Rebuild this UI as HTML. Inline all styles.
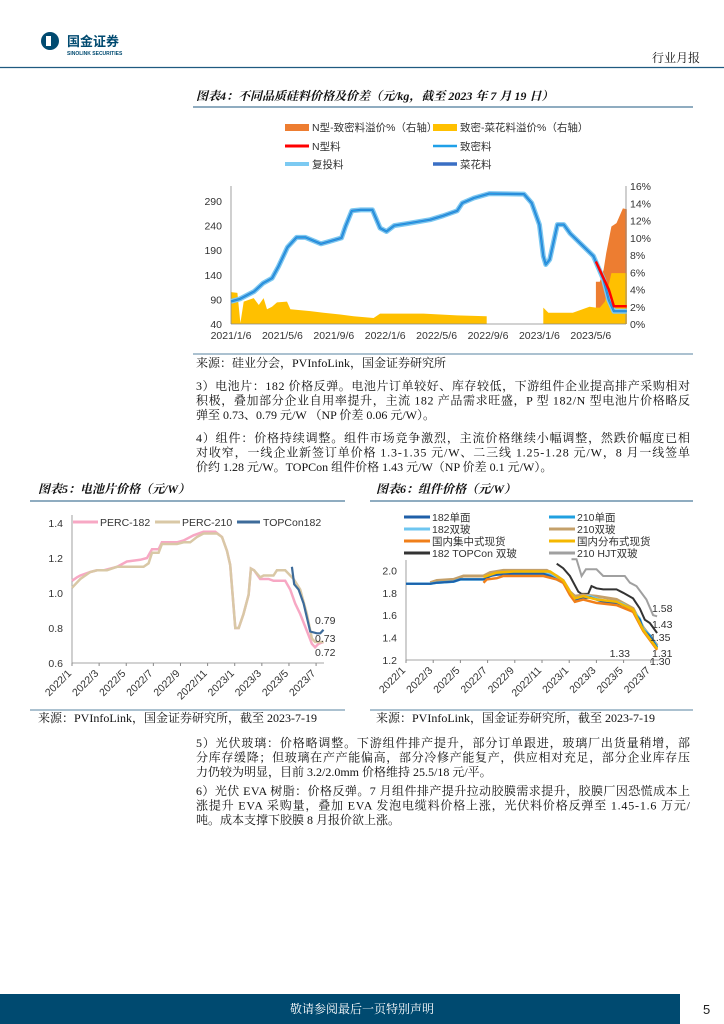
<!DOCTYPE html>
<html><head><meta charset="utf-8"><style>
body{margin:0;background:#fff;}
svg{display:block;font-family:"Liberation Sans","Noto Sans CJK SC",sans-serif;}
.t{font-family:"Liberation Serif","Noto Serif CJK SC",serif;font-size:12px;fill:#111;}
.ax{font-size:10.5px;fill:#333;}
</style></head><body>
<svg id="page" width="724" height="1024" viewBox="0 0 724 1024">
<g>
 <circle cx="50" cy="41" r="9" fill="#004a70"/>
 <rect x="46" y="36" width="5" height="10" fill="#fff"/>
 <text x="67" y="46" font-size="13" font-weight="bold" fill="#004a70">国金证券</text>
 <text x="67" y="55" font-size="5" font-weight="bold" fill="#004a70">SINOLINK SECURITIES</text>
 <text x="652" y="62" class="t" font-size="11">行业月报</text>
 <line x1="0" y1="67.5" x2="724" y2="67.5" stroke="#1f5a80" stroke-width="1.2"/>
</g>
<g>
 <text x="196" y="100" class="t" font-style="italic" font-weight="bold" font-size="12">图表4：不同品质硅料价格及价差（元/kg，截至 2023 年 7 月 19 日）</text>
 <line x1="193" y1="107" x2="693" y2="107" stroke="#1f5a80" stroke-width="1"/>
</g>
<g id="c4"></g>
<line x1="193" y1="354" x2="693" y2="354" stroke="#1f5a80" stroke-width="0.8"/>
<text x="196" y="367" class="t" font-size="9">来源：硅业分会，PVInfoLink，国金证券研究所</text>
<g>
 <text x="196" y="390" class="t" textLength="494" lengthAdjust="spacing">3）电池片：182 价格反弹。电池片订单较好、库存较低，下游组件企业提高排产采购相对</text>
 <text x="196" y="404.5" class="t" textLength="494" lengthAdjust="spacing">积极，叠加部分企业自用率提升，主流 182 产品需求旺盛，P 型 182/N 型电池片价格略反</text>
 <text x="196" y="419" class="t">弹至 0.73、0.79 元/W （NP 价差 0.06 元/W）。</text>
</g>
<g>
 <text x="196" y="442" class="t" textLength="494" lengthAdjust="spacing">4）组件：价格持续调整。组件市场竞争激烈，主流价格继续小幅调整，然跌价幅度已相</text>
 <text x="196" y="456.5" class="t" textLength="494" lengthAdjust="spacing">对收窄，一线企业新签订单价格 1.3-1.35 元/W、二三线 1.25-1.28 元/W，8 月一线签单</text>
 <text x="196" y="471" class="t">价约 1.28 元/W。TOPCon 组件价格 1.43 元/W（NP 价差 0.1 元/W）。</text>
</g>
<g>
 <text x="38" y="493" class="t" font-style="italic" font-weight="bold" font-size="12">图表5：电池片价格（元/W）</text>
 <line x1="30" y1="501" x2="345" y2="501" stroke="#1f5a80" stroke-width="1"/>
</g>
<g>
 <text x="376" y="493" class="t" font-style="italic" font-weight="bold" font-size="12">图表6：组件价格（元/W）</text>
 <line x1="370" y1="501" x2="693" y2="501" stroke="#1f5a80" stroke-width="1"/>
</g>
<g id="c5"></g>
<g id="c6"></g>
<line x1="30" y1="710" x2="345" y2="710" stroke="#1f5a80" stroke-width="0.8"/>
<line x1="370" y1="710" x2="693" y2="710" stroke="#1f5a80" stroke-width="0.8"/>
<text x="38" y="722" class="t" font-size="9">来源：PVInfoLink，国金证券研究所，截至 2023-7-19</text>
<text x="376" y="722" class="t" font-size="9">来源：PVInfoLink，国金证券研究所，截至 2023-7-19</text>
<g>
 <text x="196" y="747" class="t" textLength="494" lengthAdjust="spacing">5）光伏玻璃：价格略调整。下游组件排产提升，部分订单跟进，玻璃厂出货量稍增，部</text>
 <text x="196" y="761.5" class="t" textLength="494" lengthAdjust="spacing">分库存缓降；但玻璃在产产能偏高，部分冷修产能复产，供应相对充足，部分企业库存压</text>
 <text x="196" y="776" class="t">力仍较为明显，目前 3.2/2.0mm 价格维持 25.5/18 元/平。</text>
</g>
<g>
 <text x="196" y="795" class="t" textLength="494" lengthAdjust="spacing">6）光伏 EVA 树脂：价格反弹。7 月组件排产提升拉动胶膜需求提升，胶膜厂因恐慌成本上</text>
 <text x="196" y="809.5" class="t" textLength="494" lengthAdjust="spacing">涨提升 EVA 采购量，叠加 EVA 发泡电缆料价格上涨，光伏料价格反弹至 1.45-1.6 万元/</text>
 <text x="196" y="824" class="t">吨。成本支撑下胶膜 8 月报价欲上涨。</text>
</g>
<g>
 <rect x="0" y="994" width="680" height="30" fill="#004a70"/>
 <text x="290" y="1013" class="t" font-size="9" style="fill:#fff">敬请参阅最后一页特别声明</text>
 <text x="703" y="1014" font-size="13" fill="#222">5</text>
</g>
</svg>
<script>
const c4Ticks = ["2021/1/6","2021/5/6","2021/9/6","2022/1/6","2022/5/6","2022/9/6","2023/1/6","2023/5/6"];
const c4TickMonths = [0,4,8,12,16,20,24,28];
const c4LeftTicks = [40,90,140,190,240,290];
const c4RightTicks = [0,2,4,6,8,10,12,14,16];
const priceMonths = [0,0.7,1.8,2.5,3.2,3.7,4.4,5.1,5.8,7.0,7.7,8.6,8.9,9.4,10.1,11.0,11.6,12.1,12.7,13.7,15.5,16.5,17.6,18.0,18.9,20.1,22.8,23.4,24.0,24.3,24.5,24.8,25.4,25.9,26.4,27.3,28.2,29.0,29.4,29.8,30.8];
const densePrice = [86,91,106,123,133,157,196,216,216,203,208,215,238,270,272,272,235,228,240,244,252,260,270,286,296,305,304,286,242,178,161,171,242,242,224,201,178,130,89,66,66];
const nMonths = [28.4,29.4,29.8,30.8];
const nPrice = [167,110,76,76];
const yPremMonths = [0,0.5,0.73,0.99,1.77,2.16,2.54,2.8,3.19,3.58,4.36,4.62,6.17,7.2,8.5,9.54,11.1,11.6,14.98,17.58,19.9];
const yPremVals = [3.7,3.6,0.1,2.6,3.0,2.2,3.0,1.7,2.0,2.5,2.6,1.7,1.5,1.3,1.1,0.9,0.7,1.2,1.2,1.0,0.9];
const yPrem2Months = [24.3,24.7,26.6,27.9,28.4,28.7,29.1,29.6,30.8];
const yPrem2Vals = [1.9,1.3,1.3,2.0,1.9,1.9,2.6,5.9,5.9];
const nPremMonths = [28.4,28.7,29.0,29.2,29.6,30.0,30.5,30.8];
const nPremVals = [4.9,4.9,6.3,8.2,11.3,11.7,13.4,13.3];

const c5Ticks = ["2022/1","2022/3","2022/5","2022/7","2022/9","2022/11","2023/1","2023/3","2023/5","2023/7"];
const c5YTicks = [0.6,0.8,1.0,1.2,1.4];
const perc182M = [0,0.37,0.61,1.35,1.84,2.33,3.32,4.05,5.04,5.53,5.9,6.39,6.63,7.74,8.23,8.97,9.7,10.57,11.06,11.43,11.67,12.04,12.29,12.65,13.02,13.19,13.43,13.88,14.5,14.86,15.72,16.09,16.46,16.83,17.44,17.69,17.93,18.18,18.55];
const perc182V = [1.07,1.09,1.10,1.12,1.13,1.13,1.15,1.18,1.19,1.20,1.25,1.25,1.29,1.29,1.30,1.33,1.35,1.35,1.32,1.24,1.16,0.80,0.80,0.88,0.99,1.14,1.13,1.08,1.08,1.07,1.07,1.02,0.94,0.88,0.76,0.71,0.69,0.71,0.72];
const perc210M = [0,0.61,1.35,1.84,2.58,3.32,4.05,5.28,5.65,5.9,6.39,6.63,7.74,8.23,8.72,9.21,9.7,10.69,11.06,11.43,11.67,12.04,12.29,12.65,13.02,13.19,13.43,13.88,14.13,14.86,15.11,15.72,16.34,16.83,17.32,17.69,17.93,18.55];
const perc210V = [1.03,1.08,1.12,1.13,1.13,1.15,1.15,1.15,1.17,1.23,1.23,1.28,1.28,1.29,1.29,1.32,1.34,1.34,1.32,1.24,1.16,0.80,0.80,0.88,0.99,1.14,1.13,1.09,1.10,1.10,1.13,1.13,1.08,1.02,0.88,0.74,0.72,0.72];
const topM = [16.22,16.39,16.71,17.08,17.57,18.06,18.31,18.55];
const topV = [1.15,1.05,1.02,0.94,0.78,0.77,0.77,0.79];

const c6Ticks = ["2022/1","2022/3","2022/5","2022/7","2022/9","2022/11","2023/1","2023/3","2023/5","2023/7"];
const c6YTicks = [1.2,1.4,1.6,1.8,2.0];
const mAM = [0,1.78,2.27,3.50,3.99,5.7,6.19,6.68,7.90,10.1,10.6,11.08,11.56,12.05,12.42,13.03,13.52,14.01,14.74,15.48,15.97,16.7,17.19,17.44,17.93,18.46];
const s182mono = [1.88,1.88,1.89,1.90,1.92,1.92,1.95,1.96,1.97,1.97,1.95,1.92,1.89,1.80,1.74,1.75,1.76,1.74,1.71,1.71,1.69,1.63,1.56,1.47,1.41,1.31];
const s182bi =   [1.88,1.88,1.89,1.90,1.92,1.92,1.95,1.97,1.98,1.98,1.96,1.93,1.90,1.81,1.75,1.76,1.77,1.75,1.72,1.72,1.70,1.64,1.57,1.48,1.42,1.32];
const s210mono = [1.88,1.88,1.89,1.90,1.92,1.92,1.95,1.97,1.97,1.97,1.95,1.92,1.89,1.80,1.74,1.75,1.76,1.74,1.71,1.71,1.69,1.63,1.56,1.47,1.42,1.31];
const bM = [1.78,2.27,3.50,4.23,5.7,6.19,7.16,10.35,11.08,11.56,12.05,12.42,13.03,14.01,15.48,16.7,17.44,18.46];
const s210bi = [1.89,1.91,1.92,1.95,1.95,1.98,2.0,2.0,1.95,1.91,1.81,1.77,1.78,1.77,1.74,1.66,1.49,1.33];
const cM = [5.7,5.94,6.68,7.16,10.1,11.08,11.56,12.05,12.42,13.03,14.01,15.48,16.7,17.44,18.46];
const sCentral = [1.89,1.92,1.93,1.95,1.95,1.92,1.89,1.78,1.72,1.74,1.71,1.69,1.63,1.46,1.29];
const dM = [5.7,6.68,7.9,10.6,11.08,11.56,12.05,12.42,13.03,14.01,15.48,16.7,17.44,18.46];
const sDist = [1.94,1.98,1.99,1.99,1.95,1.91,1.81,1.75,1.77,1.74,1.72,1.65,1.47,1.30];
const tM = [11.08,11.56,12.05,12.67,12.91,13.4,13.64,14.01,14.5,15.48,15.97,16.7,17.19,17.56,17.93,18.17,18.46];
const sTop = [2.06,2.02,1.95,1.81,1.79,1.79,1.86,1.84,1.83,1.83,1.80,1.75,1.66,1.56,1.53,1.49,1.44];
const hM = [12.17,12.54,12.91,13.23,14.01,14.5,16.09,16.46,16.95,17.68,18.17,18.46];
const sHjt = [2.10,2.10,1.95,2.01,2.01,1.95,1.95,1.89,1.86,1.74,1.60,1.59];

const NS = "http://www.w3.org/2000/svg";
function mk(tag, attrs, parent){const e=document.createElementNS(NS,tag);for(const k in attrs)e.setAttribute(k,attrs[k]);parent.appendChild(e);return e;}
function txt(parent, x, y, s, anchor, cls){const e=mk('text',{x:x,y:y,'text-anchor':anchor||'start','class':cls||'ax'},parent);e.textContent=s;return e;}
function pathD(xs, ys, sx, sy){return xs.map((m,i)=>(i?'L':'M')+sx(m).toFixed(1)+','+sy(ys[i]).toFixed(1)).join('');}

(function(){
 const g=document.getElementById('c4');
 const x0=231, pxm=12.85, yb=324;
 const sx=m=>x0+m*pxm;
 const syL=v=>yb-(v-40)/50*24.6;
 const syR=v=>yb-v/2*17.25;
 function area(ms,vs,color,name){
  const d=pathD(ms,vs,sx,syR)+'L'+sx(ms[ms.length-1]).toFixed(1)+','+yb+'L'+sx(ms[0]).toFixed(1)+','+yb+'Z';
  const p=mk('path',{d:d,fill:color},g);
  
  
 }
 area(nPremMonths,nPremVals,'#ed7d31','n-premium-area');
 area(yPremMonths,yPremVals,'#ffc000','dense-premium-area-1');
 area(yPrem2Months,yPrem2Vals,'#ffc000','dense-premium-area-2');
 mk('line',{x1:x0,y1:186,x2:x0,y2:yb,stroke:'#888','stroke-width':0.8},g);
 mk('line',{x1:626,y1:186,x2:626,y2:yb,stroke:'#888','stroke-width':0.8},g);
 mk('line',{x1:x0,y1:yb,x2:626,y2:yb,stroke:'#888','stroke-width':0.8},g);
 c4LeftTicks.forEach(v=>{const t=txt(g,222,syL(v)+4,String(v),'end');});
 c4RightTicks.forEach(v=>{const t=txt(g,630,syR(v)+4,v+'%','start');});
 c4Ticks.forEach((s,i)=>{const t=txt(g,sx(c4TickMonths[i]),339,s,'middle');});
 const l1=mk('path',{d:pathD(priceMonths,densePrice,sx,syL),fill:'none',stroke:'#7ccaf2','stroke-width':5,'stroke-linejoin':'round'},g);
 
 
 const l2=mk('path',{d:pathD(priceMonths,densePrice,sx,syL),fill:'none',stroke:'#3a6fc4','stroke-width':2.2,'stroke-linejoin':'round'},g);
 
 
 const l3=mk('path',{d:pathD(priceMonths,densePrice,sx,syL),fill:'none',stroke:'#1fa0e8','stroke-width':1.2},g);
 
 
 const l4=mk('path',{d:pathD(nMonths,nPrice,sx,syL),fill:'none',stroke:'#ff0000','stroke-width':2.5},g);
 
 
 const lg=mk('g',{},g);
 
 
 mk('rect',{x:285,y:124,width:24,height:7,fill:'#ed7d31'},lg); txt(lg,312,131,'N型-致密料溢价%（右轴）');
 mk('rect',{x:433,y:124,width:24,height:7,fill:'#ffc000'},lg); txt(lg,460,131,'致密-菜花料溢价%（右轴）');
 mk('line',{x1:285,y1:146,x2:309,y2:146,stroke:'#ff0000','stroke-width':3},lg); txt(lg,312,150,'N型料');
 mk('line',{x1:433,y1:146,x2:457,y2:146,stroke:'#1fa0e8','stroke-width':2.5},lg); txt(lg,460,150,'致密料');
 mk('line',{x1:285,y1:164,x2:309,y2:164,stroke:'#7ccaf2','stroke-width':4},lg); txt(lg,312,168,'复投料');
 mk('line',{x1:433,y1:164,x2:457,y2:164,stroke:'#3a6fc4','stroke-width':3.5},lg); txt(lg,460,168,'菜花料');
})();

function rotLabels(g, ticks, sx, y){
 ticks.forEach((s,i)=>{
  const x=sx(i*2);
  const t=mk('text',{x:x,y:y,'text-anchor':'end','class':'ax',transform:'rotate(-45 '+x+' '+y+')'},g);
  t.textContent=s;
  
  
 });
}

(function(){
 const g=document.getElementById('c5');
 const x0=72, pxm=13.56, yb=663;
 const sx=m=>x0+m*pxm;
 const sy=v=>yb-(v-0.6)/0.2*35;
 mk('line',{x1:x0,y1:515,x2:x0,y2:yb,stroke:'#888','stroke-width':0.8},g);
 mk('line',{x1:x0,y1:yb,x2:324,y2:yb,stroke:'#888','stroke-width':0.8},g);
 c5YTicks.forEach(v=>{const t=txt(g,63,sy(v)+4,v.toFixed(1),'end');});
 c5Ticks.forEach((s,i)=>mk('line',{x1:sx(i*2),y1:yb,x2:sx(i*2),y2:yb+3,stroke:'#888'},g));
 rotLabels(g,c5Ticks,sx,674);
 const a=mk('path',{d:pathD(perc182M,perc182V,sx,sy),fill:'none',stroke:'#f7a8c4','stroke-width':2.5},g);
 
 
 const b=mk('path',{d:pathD(perc210M,perc210V,sx,sy),fill:'none',stroke:'#d9c8a6','stroke-width':2.5},g);
 
 
 const c=mk('path',{d:pathD(topM,topV,sx,sy),fill:'none',stroke:'#3d6b9a','stroke-width':2.2},g);
 
 
 txt(g,315,624,topV[topV.length-1].toFixed(2),'start');
 txt(g,315,642,'0.73','start');
 txt(g,315,656,perc182V[perc182V.length-1].toFixed(2),'start');
 const lg=mk('g',{},g);
 
 
 mk('line',{x1:73,y1:522,x2:98,y2:522,stroke:'#f7a8c4','stroke-width':3},lg); txt(lg,100,526,'PERC-182');
 mk('line',{x1:155,y1:522,x2:180,y2:522,stroke:'#d9c8a6','stroke-width':3},lg); txt(lg,182,526,'PERC-210');
 mk('line',{x1:237,y1:522,x2:260,y2:522,stroke:'#3d6b9a','stroke-width':3},lg); txt(lg,263,526,'TOPCon182');
})();

(function(){
 const g=document.getElementById('c6');
 const x0=406, pxm=13.6, yb=660;
 const sx=m=>x0+m*pxm;
 const sy=v=>yb-(v-1.2)/0.2*22.4;
 mk('line',{x1:x0,y1:560,x2:x0,y2:yb,stroke:'#888','stroke-width':0.8},g);
 mk('line',{x1:x0,y1:yb,x2:660,y2:yb,stroke:'#888','stroke-width':0.8},g);
 c6YTicks.forEach(v=>{const t=txt(g,397,sy(v)+4,v.toFixed(1),'end');});
 c6Ticks.forEach((s,i)=>mk('line',{x1:sx(i*2),y1:yb,x2:sx(i*2),y2:yb+3,stroke:'#888'},g));
 rotLabels(g,c6Ticks,sx,671);
 function line(ms,vs,color,w,name){
  const p=mk('path',{d:pathD(ms,vs,sx,sy),fill:'none',stroke:color,'stroke-width':w},g);
  
  
 }
 line(hM,sHjt,'#a0a0a0',2,'hjt210-line');
 line(tM,sTop,'#333333',2,'topcon182-line');
 line(bM,s210bi,'#c4a06a',3,'bifacial210-line');
 line(mAM,s182bi,'#6ec6f0',2.5,'bifacial182-line');
 line(mAM,s210mono,'#20a0e0',2.5,'mono210-line');
 line(mAM,s182mono,'#1f5fa8',2,'mono182-line');
 line(cM,sCentral,'#f07f1a',2.5,'central-spot-line');
 line(dM,sDist,'#f5b800',2.5,'distributed-spot-line');
 txt(g,652,612,'1.58'); txt(g,652,628,'1.43'); txt(g,650,641,'1.35');
 txt(g,630,657,'1.33','end'); txt(g,652,657,'1.31'); txt(g,650,665,'1.30');
 const lg=mk('g',{},g);
 
 
 const items=[['182单面','#1f5fa8'],['210单面','#20a0e0'],['182双玻','#6ec6f0'],['210双玻','#c4a06a'],['国内集中式现货','#f07f1a'],['国内分布式现货','#f5b800'],['182 TOPCon 双玻','#333333'],['210 HJT双玻','#a0a0a0']];
 items.forEach((it,i)=>{
  const col=i%2, row=Math.floor(i/2);
  const lx=col?549:404, ly=517+row*12;
  mk('line',{x1:lx,y1:ly,x2:lx+26,y2:ly,stroke:it[1],'stroke-width':3},lg);
  txt(lg,lx+28,ly+4,it[0]);
 });
})();
</script>
</body></html>
